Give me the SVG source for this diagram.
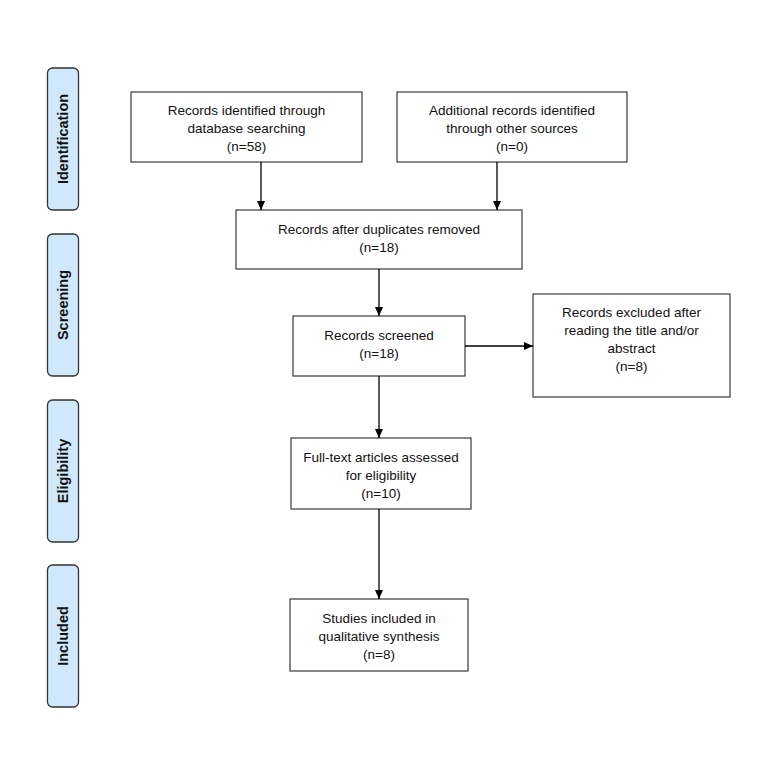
<svg xmlns="http://www.w3.org/2000/svg" width="782" height="771" viewBox="0 0 782 771">
<defs>
<marker id="ah" markerWidth="10" markerHeight="10" refX="9" refY="5" orient="auto" markerUnits="userSpaceOnUse">
<path d="M0,1 L9,5 L0,9 Z" fill="#000"/>
</marker>
<style>
.box{fill:#fff;stroke:#3a3a3a;stroke-width:1.2}
.band{fill:#cfe8fb;stroke:#333;stroke-width:1.3}
.t{font-family:"Liberation Sans",Arial,sans-serif;font-size:13.5px;fill:#111;text-anchor:middle}
.bt{font-family:"Liberation Sans",Arial,sans-serif;font-size:14.5px;font-weight:bold;fill:#111;text-anchor:middle}
.c{stroke:#000;stroke-width:1.3;fill:none;marker-end:url(#ah)}
</style>
</defs>
<rect width="782" height="771" fill="#fff"/>
<g id="band-identification"><rect class="band" x="47.5" y="68" width="31" height="142" rx="5"/><text class="bt" transform="translate(68,139) rotate(-90)">Identification</text></g>
<g id="band-screening"><rect class="band" x="47.5" y="234" width="31" height="142" rx="5"/><text class="bt" transform="translate(68,305) rotate(-90)">Screening</text></g>
<g id="band-eligibility"><rect class="band" x="47.5" y="400" width="31" height="142" rx="5"/><text class="bt" transform="translate(68,471) rotate(-90)">Eligibility</text></g>
<g id="band-included"><rect class="band" x="47.5" y="565" width="31" height="142" rx="5"/><text class="bt" transform="translate(68,636) rotate(-90)">Included</text></g>

<g id="n1"><rect class="box" x="131" y="92" width="231" height="70"/>
<text class="t" x="246.5" y="115">Records identified through</text>
<text class="t" x="246.5" y="133">database searching</text>
<text class="t" x="246.5" y="151">(n=58)</text></g>
<g id="n2"><rect class="box" x="397" y="92" width="230" height="70"/>
<text class="t" x="512" y="115">Additional records identified</text>
<text class="t" x="512" y="133">through other sources</text>
<text class="t" x="512" y="151">(n=0)</text></g>
<g id="n3"><rect class="box" x="236" y="210" width="286" height="59"/>
<text class="t" x="379" y="234">Records after duplicates removed</text>
<text class="t" x="379" y="252">(n=18)</text></g>
<g id="n4"><rect class="box" x="293" y="316" width="172" height="60"/>
<text class="t" x="379" y="340">Records screened</text>
<text class="t" x="379" y="358">(n=18)</text></g>
<g id="n5"><rect class="box" x="533" y="294" width="197" height="103"/>
<text class="t" x="631.5" y="317">Records excluded after</text>
<text class="t" x="631.5" y="335">reading the title and/or</text>
<text class="t" x="631.5" y="353">abstract</text>
<text class="t" x="631.5" y="371">(n=8)</text></g>
<g id="n6"><rect class="box" x="291" y="438" width="180" height="71"/>
<text class="t" x="381" y="462">Full-text articles assessed</text>
<text class="t" x="381" y="480">for eligibility</text>
<text class="t" x="381" y="498">(n=10)</text></g>
<g id="n7"><rect class="box" x="290" y="599" width="178" height="72"/>
<text class="t" x="379" y="623">Studies included in</text>
<text class="t" x="379" y="641">qualitative synthesis</text>
<text class="t" x="379" y="659">(n=8)</text></g>

<g id="connectors">
<line class="c" x1="261" y1="162" x2="261" y2="210"/>
<line class="c" x1="497" y1="162" x2="497" y2="210"/>
<line class="c" x1="379" y1="269" x2="379" y2="316"/>
<line class="c" x1="465" y1="346" x2="533" y2="346"/>
<line class="c" x1="379" y1="376" x2="379" y2="438"/>
<line class="c" x1="379" y1="509" x2="379" y2="599"/>
</g>
</svg>
